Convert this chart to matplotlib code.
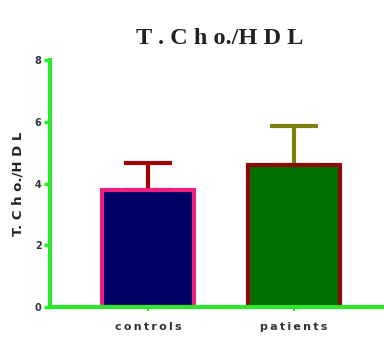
import matplotlib.pyplot as plt

groups = ['controls', 'patients']
means = [3.8, 4.6]
sd_upper = [0.86, 1.26]
fills = ['#000066', '#007000']
edges = ['#f0207f', '#8b0a0a']
err_colors = ['#a00000', '#808010']

axis_green = '#2be82b'


def spaced(s, gap='\u2009'):
    return gap.join(s)


fig = plt.figure(figsize=(3.84, 3.41), dpi=100)
ax = fig.add_axes([0.130, 0.0997, 0.87, 0.724])

for i, g in enumerate(groups):
    ax.bar(i, means[i], width=0.63, color=fills[i], edgecolor=edges[i],
           linewidth=3, zorder=2)
    ax.errorbar(i, means[i], yerr=[[0], [sd_upper[i]]], fmt='none',
                ecolor=err_colors[i], elinewidth=3, capsize=17, capthick=3,
                zorder=1)

ax.set_xlim(-0.671, 1.616)
ax.set_ylim(0, 8)
ax.set_yticks([0, 2, 4, 6, 8])
ax.set_xticks([0, 1])
ax.set_xticklabels([spaced(g) for g in groups])

for s in ['top', 'right']:
    ax.spines[s].set_visible(False)
for s in ['left', 'bottom']:
    ax.spines[s].set_color(axis_green)
    ax.spines[s].set_linewidth(3)
ax.spines['left'].set_bounds(0, 8)
ax.tick_params(axis='y', colors=axis_green, width=2.5, length=4, pad=2)
ax.tick_params(axis='x', colors=axis_green, width=1.5, length=3, pad=8)
for lab in ax.get_yticklabels():
    lab.set_color('#333333')
    lab.set_fontweight('bold')
    lab.set_fontsize(7)
for lab in ax.get_xticklabels():
    lab.set_color('#333333')
    lab.set_fontweight('bold')
    lab.set_fontsize(8)

ax.set_ylabel('T. C h o./H D L', fontsize=9.5, fontweight='bold',
              color='#222222', labelpad=7)
fig.text(0.573, 0.887, 'T . C h o./H D L', ha='center', va='center',
         family='Liberation Serif', fontweight='bold', fontsize=17.5,
         color='#222222')

fig.savefig('out.png', dpi=100)
